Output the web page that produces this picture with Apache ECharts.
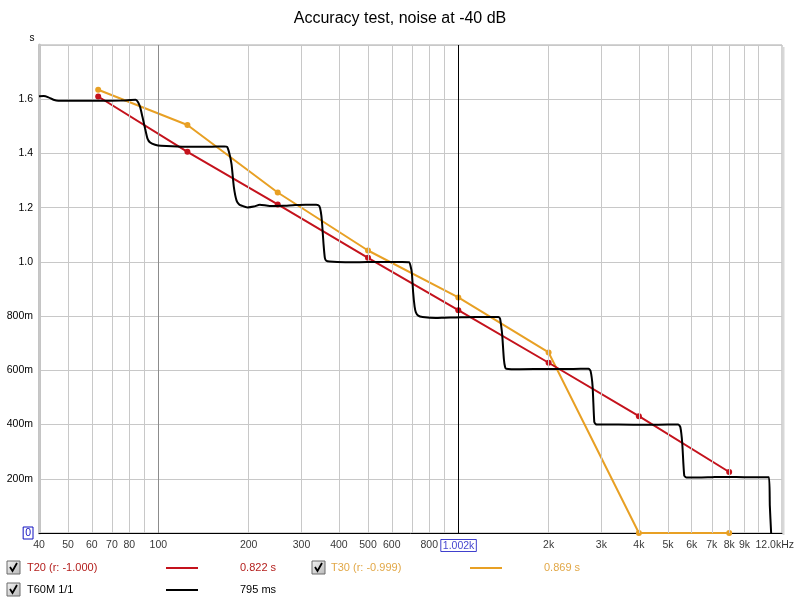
<!DOCTYPE html>
<html><head><meta charset="utf-8">
<script src="https://cdn.jsdelivr.net/npm/echarts@6/dist/echarts.min.js"></script>
<style>html,body{margin:0;padding:0;background:#fff}#c{width:800px;height:603px}</style>
</head><body><div id="c"></div>
<script>
// ---- data ----
const bandFreqs = [63, 125, 250, 500, 1000, 2000, 4000, 8000];
const t20Values = [1.610, 1.406, 1.212, 1.015, 0.822, 0.628, 0.431, 0.225];
const t30Values = [1.635, 1.505, 1.256, 1.042, 0.869, 0.666, 0, 0];
const t60mFreqs = [40, 41.5, 43, 44.7, 46.4, 55, 64, 75, 80.5, 84, 85.5, 87, 88.5, 90.4, 92, 93.9, 97.5, 102, 120, 150, 166, 169.5, 172.5, 175.4, 178.5, 182.3, 186, 190, 198, 208, 218, 235, 260, 281, 310, 336, 344, 348, 351, 355.3, 359, 363, 372, 420, 468, 530, 589, 650, 686, 693, 700, 707, 715, 722, 735, 760, 841, 900, 981, 1143, 1250, 1360, 1378, 1391, 1401, 1419, 1432, 1444, 1600, 2000, 2400, 2718, 2760, 2803, 2840, 2870, 2900, 3420, 4300, 5000, 5411, 5500, 5579, 5666, 5766, 6305, 7000, 7932, 9000, 10850, 10930, 11040];
const t60mValues = [1.611, 1.612, 1.607, 1.598, 1.594, 1.594, 1.594, 1.595, 1.597, 1.598, 1.590, 1.570, 1.535, 1.490, 1.455, 1.440, 1.432, 1.428, 1.425, 1.425, 1.426, 1.424, 1.400, 1.360, 1.277, 1.226, 1.212, 1.207, 1.201, 1.204, 1.211, 1.206, 1.207, 1.209, 1.211, 1.211, 1.206, 1.185, 1.150, 1.067, 1.015, 1.004, 1.001, 0.999, 0.999, 1.000, 1.000, 1.000, 0.999, 0.985, 0.960, 0.888, 0.835, 0.814, 0.802, 0.797, 0.793, 0.794, 0.795, 0.797, 0.797, 0.797, 0.790, 0.760, 0.730, 0.641, 0.612, 0.606, 0.604, 0.605, 0.605, 0.606, 0.598, 0.542, 0.410, 0.402, 0.400, 0.400, 0.399, 0.400, 0.400, 0.390, 0.332, 0.212, 0.205, 0.205, 0.206, 0.207, 0.206, 0.206, 0.100, 0];
const gridFreqs = [40, 50, 60, 70, 80, 90, 100, 200, 300, 400, 500, 600, 700, 800, 900, 2000, 3000, 4000, 5000, 6000, 7000, 8000, 9000, 10000];
const xTickFreqs = [40, 50, 60, 70, 80, 100, 200, 300, 400, 500, 600, 800, 2000, 3000, 4000, 5000, 6000, 7000, 8000, 9000, 12000];
const xTickLabels = ['40', '50', '60', '70', '80', '100', '200', '300', '400', '500', '600', '800', '2k', '3k', '4k', '5k', '6k', '7k', '8k', '9k', '12.0kHz'];
const cursorFreq = 1002;
const cursorLabel = '1.002k';
const xMin = 40, xMax = 12000;
const yMin = 0, yMax = 1.8, yStep = 0.2;
const legendRows = [
  {name: 'T20 (r: -1.000)', value: '0.822 s'},
  {name: 'T30 (r: -0.999)', value: '0.869 s'},
  {name: 'T60M 1/1', value: '795 ms'}
];

// ---- chart ----
const FONT = '"Liberation Sans", Arial, sans-serif';
const RED = '#c4121c', ORANGE = '#e8a024', BLACK = '#000000';
const chart = echarts.init(document.getElementById('c'), null, {renderer: 'canvas'});

function zip(xs, ys) { return xs.map((x, i) => [x, ys[i]]); }

const labelData = xTickFreqs.map((f, i) => {
  const item = {value: [f, 0], label: {formatter: xTickLabels[i]}};
  if (i === xTickFreqs.length - 1) item.label = {formatter: xTickLabels[i], align: 'right', offset: [12, 0]};
  return item;
});
labelData.push({value: [cursorFreq, 0], label: {formatter: '{box|' + cursorLabel + '}'}});

function checkbox(x, y) {
  return [
    {type: 'rect', shape: {x: x, y: y, width: 13, height: 13},
      style: {fill: new echarts.graphic.LinearGradient(0, 0, 1, 1, [{offset: 0, color: '#f4f4f4'}, {offset: 1, color: '#b8b8b8'}]), stroke: '#6a6a6a', lineWidth: 1}},
    {type: 'polyline', shape: {points: [[x + 3, y + 6], [x + 5.5, y + 10], [x + 10, y + 2]]},
      style: {stroke: '#000', lineWidth: 1.8, fill: null}}
  ];
}
function txt(x, y, t, color, size) {
  return {type: 'text', style: {x: x, y: y, text: t, fill: color, font: (size || 11) + 'px ' + FONT, verticalAlign: 'middle', align: 'left'}};
}
function sample(x1, x2, y, color) {
  return {type: 'line', shape: {x1: x1, y1: y, x2: x2, y2: y}, style: {stroke: color, lineWidth: 2}};
}

const graphics = [].concat(
  checkbox(7, 561), txt(27, 568, legendRows[0].name, '#b4201e'), sample(166, 198, 568, RED), txt(240, 568, legendRows[0].value, '#b4201e'),
  checkbox(312, 561), txt(331, 568, legendRows[1].name, '#e2a848'), sample(470, 502, 568, ORANGE), txt(544, 568, legendRows[1].value, '#e2a848'),
  checkbox(7, 583), txt(27, 590, legendRows[2].name, '#000'), sample(166, 198, 590, BLACK), txt(240, 590, legendRows[2].value, '#000'),
  [{type: 'text', style: {x: 32, y: 38, text: 's', fill: '#000', font: '10px ' + FONT, align: 'center', verticalAlign: 'middle'}},
   {type: 'line', shape: {x1: 783.5, y1: 47, x2: 783.5, y2: 535}, style: {stroke: '#d8d8d8', lineWidth: 2}}]
);

const option = {
  animation: false,
  backgroundColor: '#ffffff',
  title: {text: 'Accuracy test, noise at -40 dB', left: 'center', top: 6,
    textStyle: {fontFamily: FONT, fontSize: 16, fontWeight: 'normal', color: '#000'}},
  grid: {left: 39, right: 18, top: 45, bottom: 70, show: true, borderColor: '#a8a8a8', borderWidth: 1,
    backgroundColor: 'transparent'},
  xAxis: {type: 'log', logBase: 10, min: xMin, max: xMax,
    axisLine: {show: true, lineStyle: {color: '#000', width: 1}},
    axisTick: {show: false}, axisLabel: {show: false}, splitLine: {show: false}, minorTick: {show: false}},
  yAxis: {type: 'value', min: yMin, max: yMax, interval: yStep,
    axisLine: {show: true, lineStyle: {color: '#c4c4c4', width: 3}},
    axisTick: {show: false},
    splitLine: {show: true, lineStyle: {color: '#c8c8c8', width: 1}},
    axisLabel: {showMaxLabel: false, margin: 6, color: '#000', fontFamily: FONT, fontSize: 10.5,
      formatter: function (v) {
        if (Math.abs(v) < 1e-9) return '{box|0}';
        if (v >= 0.999) return v.toFixed(1);
        return Math.round(v * 1000) + 'm';
      },
      rich: {box: {color: '#1010c0', borderColor: '#1010c0', borderWidth: 1, padding: [1, 2, 0, 2], fontSize: 10.5, fontFamily: FONT}}
    }
  },
  graphic: graphics,
  series: [
    {type: 'scatter', name: 'ticks', z: 1, silent: true, clip: false, symbolSize: 1,
      itemStyle: {color: 'rgba(0,0,0,0)'},
      label: {show: true, position: 'bottom', distance: 6, color: '#000', fontFamily: FONT, fontSize: 10.5,
        rich: {box: {color: '#1010c0', borderColor: '#1010c0', borderWidth: 1, padding: [1, 2, 0, 2], fontSize: 10.5, fontFamily: FONT}}},
      data: labelData,
      markLine: {silent: true, symbol: ['none', 'none'], label: {show: false}, animation: false,
        data: gridFreqs.map(f => ({xAxis: f, lineStyle: {color: f === 100 ? '#8c8c8c' : '#c8c8c8', width: 1, type: 'solid'}}))
          .concat([{xAxis: cursorFreq, lineStyle: {color: '#000', width: 1, type: 'solid'}}])}
    },
    {type: 'line', name: 'T30', z: 3, data: zip(bandFreqs, t30Values), color: ORANGE,
      lineStyle: {width: 2, color: ORANGE}, symbol: 'circle', symbolSize: 6, showSymbol: true, itemStyle: {color: ORANGE}},
    {type: 'line', name: 'T20', z: 4, data: zip(bandFreqs, t20Values), color: RED,
      lineStyle: {width: 2, color: RED}, symbol: 'circle', symbolSize: 6, showSymbol: true, itemStyle: {color: RED}},
    {type: 'line', name: 'T60M', z: 5, data: zip(t60mFreqs, t60mValues), color: BLACK,
      lineStyle: {width: 2, color: BLACK}, showSymbol: false, symbol: 'none', smooth: 0.2}
  ]
};
chart.setOption(option);
</script></body></html>
